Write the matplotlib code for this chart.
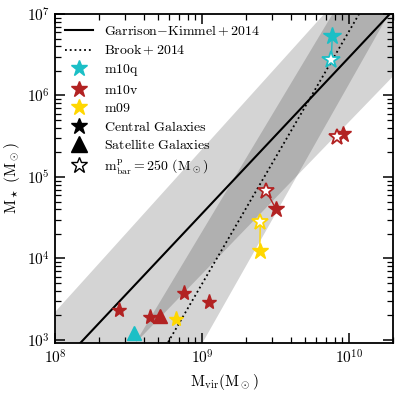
import numpy as np
import matplotlib
matplotlib.use('Agg')
import matplotlib.pyplot as plt
from matplotlib.lines import Line2D

plt.rcParams['mathtext.fontset'] = 'cm'
plt.rcParams['font.family'] = 'serif'
plt.rcParams['font.serif'] = ['DejaVu Serif']

# x range endpoints used for the relation lines and the bands
mvir_ends = [1e8, 2e10]

# Garrison-Kimmel+2014 and Brook+2014 (values at the two ends)
gk_mstar = [430, 1.11e7]
brook_mstar = [3.88, 5.27e7]

# shaded bands (lower, upper edge at the two ends)
gk_band_lo = [87.5, 1.73e6]
gk_band_hi = [2.2e3, 8.7e7]
brook_band_lo = [0.586, 1.26e7]
brook_band_hi = [20.9, 1.75e8]

# simulated galaxies: (Mvir, Mstar) for central run and the low-res (hollow) run
m10q_c = (7.69e9, 5.37e6)
m10q_h = (7.57e9, 2.73e6)
m10v_c = [(9.14e9, 3.37e5), (3.19e9, 4.02e4)]
m10v_h = [(8.32e9, 3.07e5), (2.74e9, 6.68e4)]
m09_c = (2.47e9, 1.25e4)
m09_h = (2.49e9, 2.78e4)

# satellites / small galaxies
m10v_small_x = [2.73e8, 4.45e8, 7.50e8, 1.12e9]
m10v_small_y = [2.33e3, 1.91e3, 3.74e3, 2.95e3]
m09_small_x = [6.68e8]
m09_small_y = [1.82e3]
m10v_sat_x = [5.2e8]
m10v_sat_y = [1.97e3]
m10q_sat_x = [3.42e8]
m10q_sat_y = [1.21e3]

cq = '#1BBFC6'
cv = '#B22222'
c9 = '#FFD700'

fig = plt.figure(figsize=(3.99, 3.99), dpi=100)
ax = fig.add_axes([0.138, 0.1396, 0.8477, 0.8253])
ax.set_xscale('log')
ax.set_yscale('log')

ax.fill_between(mvir_ends, gk_band_lo, gk_band_hi, color='k', alpha=0.17, lw=0, zorder=1)
ax.fill_between(mvir_ends, brook_band_lo, brook_band_hi, color='k', alpha=0.17, lw=0, zorder=1)

ax.plot(mvir_ends, gk_mstar, 'k-', lw=1.5, zorder=2)
ax.plot(mvir_ends, brook_mstar, 'k:', lw=1.3, zorder=2)

def pair(c, h, color, ms):
    ax.plot([c[0], h[0]], [c[1], h[1]], '-', color=color, lw=1, zorder=3)
    ax.plot(c[0], c[1], '*', color=color, ms=ms, mec=color, zorder=4)
    ax.plot(h[0], h[1], '*', mfc='w', mec=color, mew=1.3, ms=ms, zorder=4)

pair(m10q_c, m10q_h, cq, 13)
for c, h in zip(m10v_c, m10v_h):
    pair(c, h, cv, 12)
pair(m09_c, m09_h, c9, 12)

ax.plot(m10v_small_x, m10v_small_y, '*', color=cv, ms=11, ls='none', zorder=4)
ax.plot(m09_small_x, m09_small_y, '*', color=c9, ms=11, ls='none', zorder=4)
ax.plot(m10v_sat_x, m10v_sat_y, '^', color=cv, ms=10, ls='none', zorder=4)
ax.plot(m10q_sat_x, m10q_sat_y, '^', color=cq, ms=10, ls='none', zorder=4)

ax.set_xlim(1e8, 2e10)
ax.set_ylim(9.1e2, 1e7)

ax.set_xlabel(r'$\rm M_{vir}(M_\odot)$', fontsize=11)
ax.set_ylabel(r'$\rm M_\star\ (M_\odot)$', fontsize=11)

for s in ax.spines.values():
    s.set_linewidth(1.3)
ax.tick_params(which='both', direction='in', top=True, right=True, labelsize=11)
ax.tick_params(which='major', length=7, width=1.1)
ax.tick_params(which='minor', length=4, width=0.9)
ax.set_xticks([1e8, 1e9, 1e10])
ax.set_xticklabels([r'$10^8$', r'$10^9$', r'$10^{10}$'])
ax.set_yticks([1e3, 1e4, 1e5, 1e6, 1e7])
ax.set_yticklabels([r'$10^3$', r'$10^4$', r'$10^5$', r'$10^6$', r'$10^7$'])

handles = [
    Line2D([], [], color='k', ls='-', lw=1.5),
    Line2D([], [], color='k', ls=':', lw=1.3),
    Line2D([], [], color=cq, marker='*', ls='none', ms=12),
    Line2D([], [], color=cv, marker='*', ls='none', ms=12),
    Line2D([], [], color=c9, marker='*', ls='none', ms=12),
    Line2D([], [], color='k', marker='*', ls='none', ms=12),
    Line2D([], [], color='k', marker='^', ls='none', ms=11),
    Line2D([], [], mfc='w', mec='k', marker='*', ls='none', ms=12, mew=1),
]
labels = [
    r'$\rm Garrison{-}Kimmel+2014$',
    r'$\rm Brook+2014$',
    r'$\rm m10q$',
    r'$\rm m10v$',
    r'$\rm m09$',
    r'$\rm Central\ Galaxies$',
    r'$\rm Satellite\ Galaxies$',
    r'$\rm m^p_{bar} = 250\ (M_\odot)$',
]
ax.legend(handles, labels, loc='upper left', frameon=False, fontsize=10,
          handlelength=2, labelspacing=0.33, handletextpad=0.8,
          borderaxespad=0.3)

fig.savefig('out.png', dpi=100)
